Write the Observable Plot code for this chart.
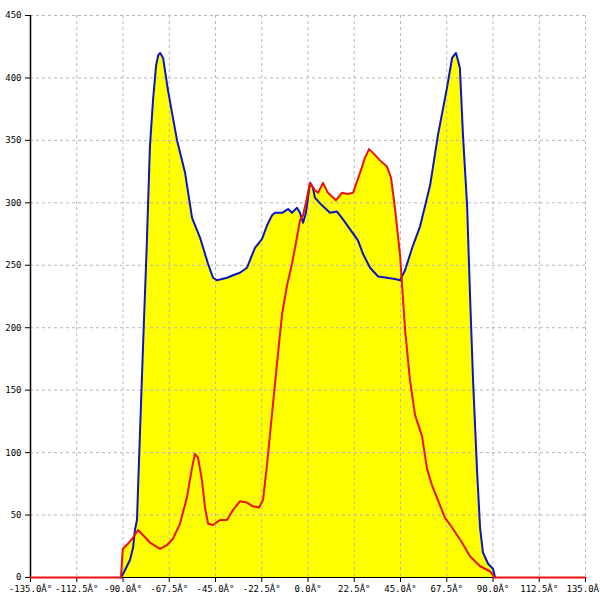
<!DOCTYPE html>
<html>
<head>
<meta charset="utf-8">
<script src="https://cdn.jsdelivr.net/npm/d3@7"></script>
<script src="https://cdn.jsdelivr.net/npm/@observablehq/plot@0.6"></script>
<style>
  html, body { margin: 0; padding: 0; background: #fff; }
</style>
</head>
<body>
<div id="chart"></div>
<script>
// Blue series (angle in degrees, value)
const blueAngles = [-91.0, -89.0, -86.6, -85.1, -84.2, -83.2, -82.2, -80.9, -79.8, -78.5, -76.9, -75.4, -73.9, -72.9, -71.9, -70.5, -68.1, -65.7, -63.7, -59.8, -56.4, -52.5, -48.6, -46.2, -44.3, -41.8, -39.4, -36.5, -33.1, -29.7, -25.8, -22.4, -19.9, -17.5, -16.1, -12.6, -9.7, -7.8, -5.4, -3.9, -2.4, -1.0, 1.0, 2.4, 3.4, 6.8, 10.7, 14.1, 16.5, 20.4, 24.3, 26.8, 30.2, 34.1, 38.4, 42.3, 44.8, 47.2, 51.1, 54.5, 59.4, 63.2, 67.6, 70.1, 72.0, 73.9, 75.4, 77.4, 78.8, 80.3, 82.2, 83.7, 85.1, 87.6, 90.0, 91.0];
const blueValues = [0, 6, 14, 24, 38, 46, 94, 155, 206, 263, 345, 382, 410, 418, 420, 416, 390, 368, 350, 324, 288, 272, 251, 240, 238, 239, 240, 242, 244, 248, 264, 271, 282, 290, 292, 292, 295, 292, 296, 292, 284, 292, 316, 312, 304, 298, 292, 293, 288, 279, 270, 259, 248, 241, 240, 239, 238, 246, 266, 281, 314, 354, 392, 416, 420, 408, 354, 298, 227, 158, 87, 40, 20, 11, 7, 0];

// Red series (angle in degrees, value)
const redAngles = [-135.0, -91.0, -90.1, -87.6, -85.1, -82.7, -80.3, -76.9, -72.0, -68.6, -65.7, -62.3, -58.9, -56.4, -55.0, -53.5, -51.6, -50.1, -48.6, -46.2, -42.8, -39.4, -36.5, -33.1, -29.7, -26.8, -23.8, -21.9, -19.9, -17.5, -15.1, -12.6, -10.2, -7.8, -5.4, -3.9, -2.4, -0.5, 1.0, 3.4, 4.9, 7.3, 9.7, 13.6, 16.5, 19.5, 21.9, 25.3, 27.7, 29.7, 31.6, 35.0, 38.4, 40.4, 42.3, 44.8, 47.2, 49.6, 52.1, 55.5, 57.9, 60.3, 63.2, 66.6, 70.5, 74.9, 78.8, 83.7, 88.5, 90.0, 90.5, 135.0];
const redValues = [0, 0, 23, 27, 32, 38, 34, 28, 23, 26, 31, 43, 64, 88, 99, 96, 78, 56, 43, 42, 46, 46, 54, 61, 60, 57, 56, 62, 91, 131, 171, 211, 234, 251, 272, 286, 290, 304, 316, 310, 308, 316, 308, 302, 308, 307, 308, 324, 336, 343, 340, 334, 329, 320, 296, 258, 199, 158, 130, 113, 87, 74, 62, 48, 39, 28, 17, 9, 5, 2, 0, 0];

// Axis ticks
const xTicks = [-135, -112.5, -90, -67.5, -45, -22.5, 0, 22.5, 45, 67.5, 90, 112.5, 135];
const yTicks = [0, 50, 100, 150, 200, 250, 300, 350, 400, 450];

const blue = blueAngles.map((a, i) => ({a, v: blueValues[i]}));
const red = redAngles.map((a, i) => ({a, v: redValues[i]}));

const gridStyle = {stroke: "#b8b8b8", strokeOpacity: 1, strokeDasharray: "3,3", strokeWidth: 1};

const chart = Plot.plot({
  width: 600,
  height: 600,
  marginLeft: 30,
  marginRight: 15,
  marginTop: 15,
  marginBottom: 23,
  style: {fontFamily: "'DejaVu Sans Mono', monospace", fontSize: "9px", background: "#fff", color: "#000"},
  x: {domain: [-135, 135], label: null},
  y: {domain: [0, 450], label: null},
  marks: [
    Plot.areaY(blue, {x: "a", y: "v", fill: "#ffff00"}),
    Plot.areaY(red, {x: "a", y: "v", fill: "#ffff00"}),
    Plot.gridX(xTicks.filter(d => d !== -135), gridStyle),
    Plot.gridY(yTicks.filter(d => d !== 0), gridStyle),
    Plot.axisX(xTicks, {tickSize: 5, tickPadding: 3, tickFormat: d => d.toFixed(1) + "Â°", stroke: "#000", fill: "#000"}),
    Plot.axisY(yTicks, {tickSize: 5, tickPadding: 4, tickFormat: d => String(d), stroke: "#000", fill: "#000"}),
    Plot.ruleX([-135], {stroke: "#000", strokeWidth: 1.5}),
    Plot.ruleY([0], {stroke: "#000", strokeWidth: 1}),
    Plot.line(blue, {x: "a", y: "v", stroke: "#0a14c8", strokeWidth: 2}),
    Plot.line(red, {x: "a", y: "v", stroke: "#ee1111", strokeWidth: 2})
  ]
});

document.getElementById("chart").appendChild(chart);
</script>
</body>
</html>
